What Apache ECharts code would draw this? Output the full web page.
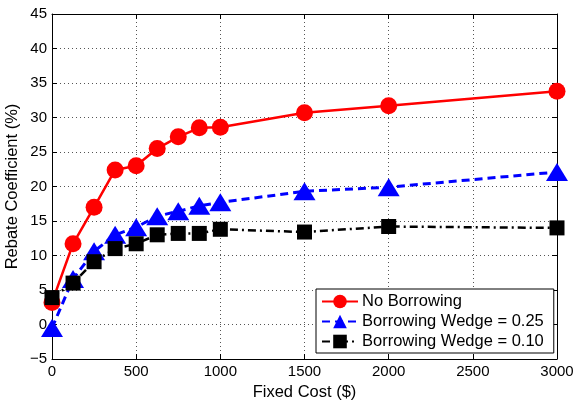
<!DOCTYPE html>
<html>
<head>
<meta charset="utf-8">
<script src="https://cdn.jsdelivr.net/npm/echarts@6/dist/echarts.min.js"></script>
<style>
  html, body { margin: 0; padding: 0; background: #fff; }
  #main { width: 577px; height: 400px; }
</style>
</head>
<body>
<div id="main"></div>
<script>
// fixed cost values on the x axis
const fixedCost = [0, 125, 250, 375, 500, 625, 750, 875, 1000, 1500, 2000, 3000]
const noBorrowing = [3.2, 11.7, 17.0, 22.4, 23.0, 25.5, 27.2, 28.5, 28.6, 30.7, 31.7, 33.8]
const wedge025 = [-0.5, 6.6, 10.6, 13.0, 14.1, 15.7, 16.4, 17.2, 17.7, 19.3, 19.9, 22.1]
const wedge010 = [3.9, 6.0, 9.1, 11.0, 11.7, 13.0, 13.2, 13.2, 13.8, 13.4, 14.2, 14.0]
const seriesNames = ['No Borrowing', 'Borrowing Wedge = 0.25', 'Borrowing Wedge = 0.10']

const font = 'Liberation Sans'
const pairs = arr => fixedCost.map((x, i) => [x, arr[i]])
const gridLine = { show: true, lineStyle: { color: '#555', type: [1, 3], width: 1 } }
const boxLine = { show: true, onZero: false, lineStyle: { color: '#000', width: 1 } }
const boxTick = { show: true, inside: true, length: 5, lineStyle: { color: '#000' } }

let myChart = echarts.init(document.getElementById('main'))
myChart.setOption({
  animation: false,
  backgroundColor: '#fff',
  textStyle: { fontFamily: font },
  grid: { left: 52, right: 20, top: 14, bottom: 41, containLabel: false, outerBoundsMode: 'none' },
  legend: {
    orient: 'vertical',
    left: 316, top: 289,
    padding: [4, 10, 3, 5],
    itemGap: 3,
    itemWidth: 36, itemHeight: 17,
    backgroundColor: '#fff',
    borderColor: '#000', borderWidth: 1,
    textStyle: { fontFamily: font, fontSize: 16.5, color: '#000', padding: [0, 0, 0, -1] },
    data: seriesNames
  },
  xAxis: [
    {
      type: 'value', min: 0, max: 3000, interval: 500,
      name: 'Fixed Cost ($)', nameLocation: 'middle', nameGap: 25, nameMoveOverlap: false,
      nameTextStyle: { fontFamily: font, fontSize: 16.5, color: '#000' },
      axisLine: boxLine,
      axisTick: boxTick,
      axisLabel: { fontFamily: font, fontSize: 15, color: '#000', margin: 5, formatter: v => String(v) },
      splitLine: gridLine
    },
    {
      type: 'value', min: 0, max: 3000, interval: 500, position: 'top',
      axisLine: boxLine,
      axisTick: boxTick,
      axisLabel: { show: false }, splitLine: { show: false }
    }
  ],
  yAxis: [
    {
      type: 'value', min: -5, max: 45, interval: 5,
      name: 'Rebate Coefficient (%)', nameLocation: 'middle', nameGap: 31, nameMoveOverlap: false,
      nameTextStyle: { fontFamily: font, fontSize: 16.5, color: '#000' },
      axisLine: boxLine,
      axisTick: boxTick,
      axisLabel: { fontFamily: font, fontSize: 15, color: '#000', margin: 5,
        formatter: v => (v < 0 ? '\u2212' + Math.abs(v) : String(v)) },
      splitLine: gridLine
    },
    {
      type: 'value', min: -5, max: 45, interval: 5, position: 'right',
      axisLine: boxLine,
      axisTick: boxTick,
      axisLabel: { show: false }, splitLine: { show: false }
    }
  ],
  series: [
    {
      name: seriesNames[0], type: 'line', data: pairs(noBorrowing),
      symbol: 'circle', symbolSize: 17,
      itemStyle: { color: '#ff0000' },
      lineStyle: { color: '#ff0000', width: 2.5 }
    },
    {
      name: seriesNames[1], type: 'line', data: pairs(wedge025),
      symbol: 'triangle', symbolSize: [22, 18],
      itemStyle: { color: '#0000ff' },
      lineStyle: { color: '#0000ff', width: 3, type: [8, 5] }
    },
    {
      name: seriesNames[2], type: 'line', data: pairs(wedge010),
      symbol: 'rect', symbolSize: 15,
      itemStyle: { color: '#000' },
      lineStyle: { color: '#000', width: 2.5, type: [8, 4, 2, 4] }
    }
  ]
})
</script>
</body>
</html>
